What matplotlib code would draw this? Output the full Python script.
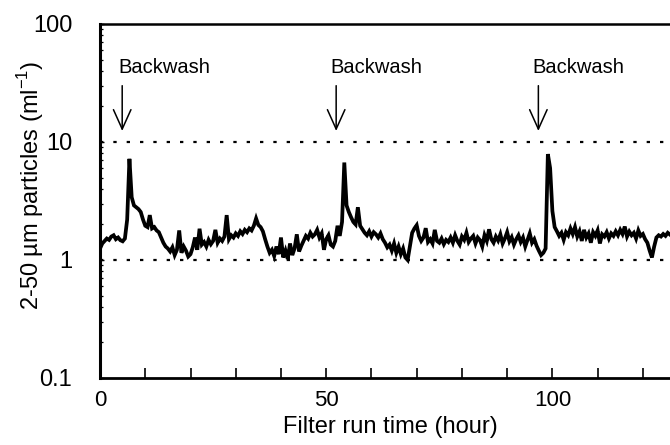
import numpy as np
import matplotlib
matplotlib.use("Agg")
import matplotlib.pyplot as plt
from matplotlib.ticker import FixedLocator, LogLocator, NullFormatter, FixedFormatter

plt.rcParams["font.family"] = ["Liberation Sans", "DejaVu Sans"]
plt.rcParams["mathtext.fontset"] = "custom"
plt.rcParams["mathtext.rm"] = "Liberation Sans"

# filter run time (hour), sampled every half hour
hours = np.arange(0, 126.01, 0.5)

# 2-50 um particle counts (per ml)
particles = [
    1.25, 1.38, 1.45, 1.52, 1.48, 1.58, 1.62, 1.50, 1.55, 1.47,
    1.44, 1.52, 2.20, 7.20, 3.40, 2.90, 2.80, 2.70, 2.55, 2.20,
    1.95, 1.90, 2.40, 1.85, 1.90, 1.78, 1.72, 1.55, 1.40, 1.30,
    1.25, 1.18, 1.28, 1.10, 1.22, 1.78, 1.15, 1.30, 1.20, 1.07,
    1.12, 1.28, 1.55, 1.22, 1.84, 1.35, 1.42, 1.30, 1.48, 1.36,
    1.45, 1.80, 1.40, 1.52, 1.45, 1.58, 2.40, 1.50, 1.62, 1.55,
    1.68, 1.60, 1.75, 1.66, 1.80, 1.72, 1.85, 1.78, 1.95, 2.25,
    1.98, 1.90, 1.75, 1.50, 1.30, 1.15, 1.22, 1.08, 1.30, 1.12,
    1.55, 1.05, 1.20, 1.02, 1.38, 1.10, 1.25, 1.65, 1.18, 1.32,
    1.45, 1.60, 1.52, 1.70, 1.58, 1.65, 1.80, 1.55, 1.68, 1.22,
    1.50, 1.62, 1.35, 1.30, 1.45, 1.95, 1.60, 2.10, 6.70, 2.90,
    2.55, 2.30, 2.10, 2.00, 2.80, 1.95, 1.82, 1.70, 1.62, 1.75,
    1.58, 1.72, 1.65, 1.55, 1.68, 1.50, 1.40, 1.28, 1.35, 1.20,
    1.38, 1.15, 1.30, 1.12, 1.25, 1.05, 1.00, 1.30, 1.70, 1.85,
    1.97, 1.60, 1.45, 1.55, 1.86, 1.42, 1.50, 1.38, 1.80, 1.45,
    1.40, 1.52, 1.36, 1.48, 1.42, 1.55, 1.40, 1.62, 1.45, 1.35,
    1.58, 1.48, 1.70, 1.42, 1.52, 1.60, 1.38, 1.55, 1.47, 1.30,
    1.62, 1.45, 1.82, 1.50, 1.40, 1.58, 1.46, 1.65, 1.38, 1.52,
    1.72, 1.44, 1.56, 1.35, 1.50, 1.62, 1.42, 1.55, 1.30, 1.48,
    1.68, 1.40, 1.50, 1.32, 1.20, 1.10, 1.15, 1.25, 7.90, 6.00,
    2.60, 1.90, 1.75, 1.60, 1.70, 1.48, 1.72, 1.62, 1.85, 1.66,
    1.90, 1.58, 1.75, 1.45, 1.80, 1.55, 1.68, 1.40, 1.72, 1.60,
    1.78, 1.38, 1.65, 1.58, 1.72, 1.52, 1.68, 1.60, 1.75, 1.62,
    1.80, 1.66, 1.92, 1.58, 1.74, 1.62, 1.70, 1.52, 1.78, 1.60,
    1.66, 1.50, 1.40, 1.20, 1.05, 1.30, 1.55, 1.62, 1.58, 1.66,
    1.60, 1.70, 1.64,
]

limit_lines = [10, 1]
backwash_hours = [4.9, 52.2, 96.9]
backwash_text_hours = [4.0, 50.9, 95.6]

fig = plt.figure(figsize=(6.7, 4.45), dpi=100)
ax = fig.add_axes([0.1493, 0.1506, 0.8507, 0.7955])

ax.plot(hours, particles, color="black", lw=2.7, solid_joinstyle="miter")
for level in limit_lines:
    ax.axhline(level, color="black", lw=1.6, linestyle=(0, (1.5, 4.5)))

for xa, xt in zip(backwash_hours, backwash_text_hours):
    ax.annotate("", xy=(xa, 12.4), xytext=(xa, 30),
                arrowprops=dict(arrowstyle="->,head_length=1.0,head_width=0.45",
                                lw=1.1, color="black", mutation_scale=14,
                                shrinkA=0, shrinkB=0))
    ax.text(xt, 43, "Backwash", fontsize=14.5, ha="left", va="center")

ax.set_yscale("log")
ax.set_ylim(0.1, 100)
ax.set_xlim(0, 126)

ax.xaxis.set_major_locator(FixedLocator([0, 50, 100]))
ax.xaxis.set_minor_locator(FixedLocator([10, 20, 30, 40, 60, 70, 80, 90, 110, 120]))
ax.yaxis.set_major_locator(FixedLocator([0.1, 1, 10, 100]))
ax.yaxis.set_major_formatter(FixedFormatter(["0.1", "1", "10", "100"]))
ax.yaxis.set_minor_locator(LogLocator(base=10, subs=np.arange(2, 10)))
ax.yaxis.set_minor_formatter(NullFormatter())

ax.tick_params(axis="x", which="both", direction="in", length=7, width=1.2,
               labelsize=16, pad=9, top=False)
ax.tick_params(axis="y", which="major", direction="in", length=3, width=1.0,
               labelsize=17, pad=20, right=False)
ax.tick_params(axis="y", which="minor", direction="in", length=2.5, width=0.9,
               right=False)

ax.spines["right"].set_visible(False)
ax.spines["left"].set_linewidth(2.2)
ax.spines["bottom"].set_linewidth(2.0)
ax.spines["top"].set_linewidth(1.8)

fig.text(390 / 670, 1 - 427 / 445, "Filter run time (hour)", fontsize=17,
         ha="center", va="center")
fig.text(31 / 670, 1 - 185 / 445, r"2-50 µm particles (ml$^{\mathrm{-1}}$)",
         fontsize=17, rotation=90, ha="center", va="center")

fig.savefig("out.png", dpi=100)
